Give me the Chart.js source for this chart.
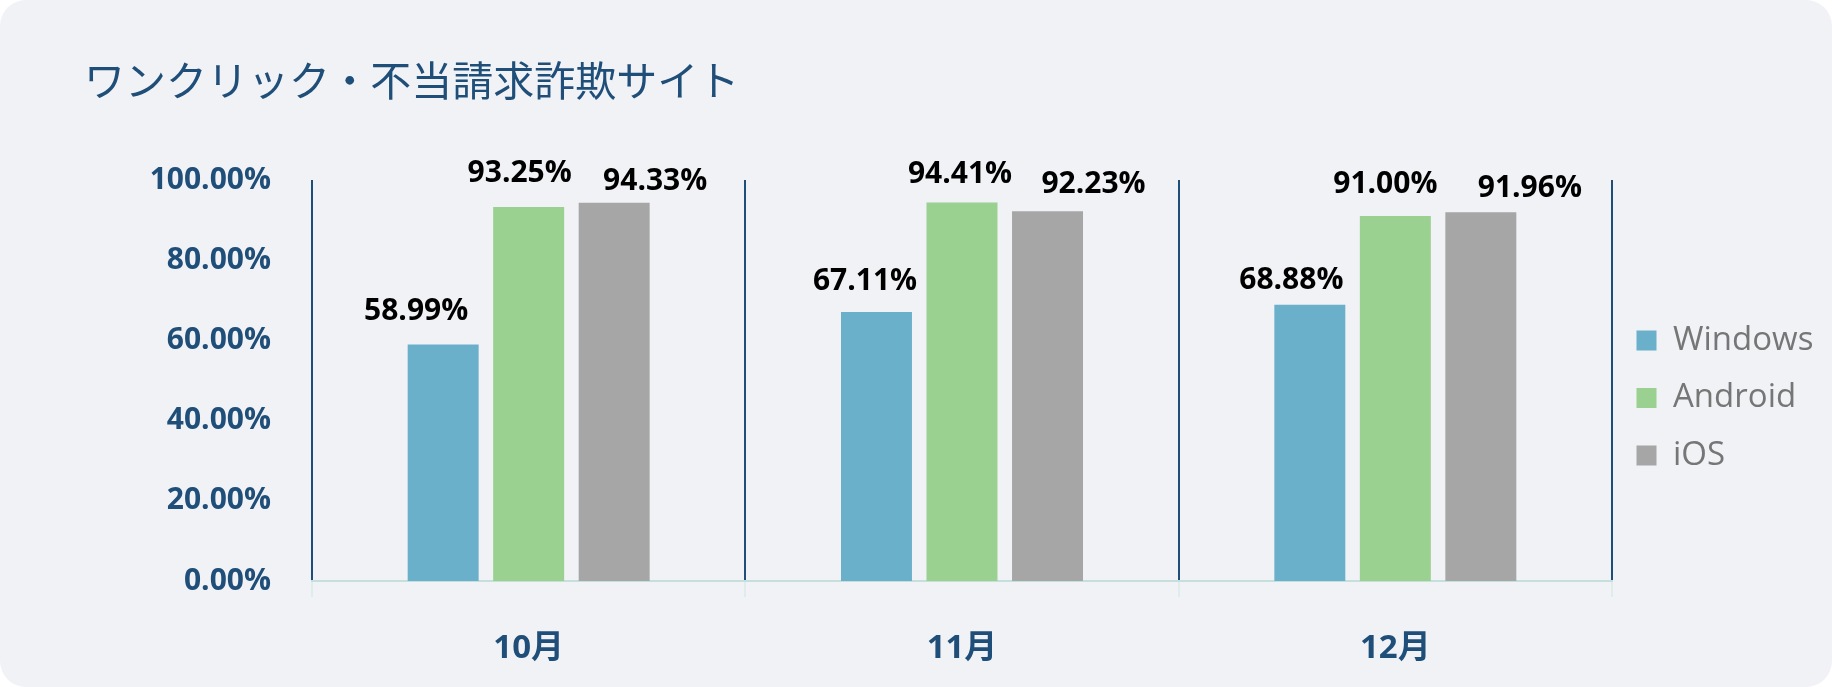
<!DOCTYPE html>
<html><head><meta charset="utf-8">
<script src="https://cdn.jsdelivr.net/npm/chart.js@4"></script>
<style>
html,body{margin:0;padding:0;background:#ffffff;}
#wrap{position:relative;width:1832px;height:687px;background:#f0f2f6;border-radius:26px;overflow:hidden;}
</style></head><body>
<div id="wrap"><canvas id="c"></canvas></div>
<script>
// ---- data ----
const chartTitle = 'ワンクリック・不当請求詐欺サイト';
const categories = ['10月', '11月', '12月'];
const seriesNames = ['Windows', 'Android', 'iOS'];
const windowsValues = [58.99, 67.11, 68.88];
const androidValues = [93.25, 94.41, 91.00];
const iosValues = [94.33, 92.23, 91.96];
const yTickLabels = ['0.00%', '20.00%', '40.00%', '60.00%', '80.00%', '100.00%'];

// ---- style ----
const seriesColors = ['#6ab0cb', '#9ad090', '#a6a6a6'];
const navy = '#1f4e79';
const numFont = "'Open Sans', 'Noto Sans CJK JP', sans-serif";
const legendFontSize = 33;
const legendPad = 24.5;
const legendBox = 20;
const plotRight = 1612;
const padLeft = 84;
// label offsets [dx, dy] from bar top-centre (dataset x category)
const labelShift = [
  [[-27, -24], [-11.5, -22], [-18.5, -16]],
  [[-9, -25], [-2, -19], [-10, -23]],
  [[41, -13], [46, -18], [49, -15]]
];

const mctx = document.createElement('canvas').getContext('2d');
mctx.font = legendFontSize + "px 'Open Sans'";
const maxLegendText = Math.max(...seriesNames.map(s => mctx.measureText(s).width));
const legendWidth = legendPad + legendBox + legendFontSize / 2 + maxLegendText + 10;
const padRight = 1832 - plotRight - legendWidth;

const valueLabels = {
  id: 'valueLabels',
  afterDatasetsDraw(chart) {
    const ctx = chart.ctx;
    ctx.save();
    ctx.font = "bold 30px " + numFont;
    ctx.fillStyle = '#000000';
    ctx.textAlign = 'center';
    ctx.textBaseline = 'alphabetic';
    chart.data.datasets.forEach((ds, i) => {
      const meta = chart.getDatasetMeta(i);
      meta.data.forEach((el, j) => {
        const s = labelShift[i][j];
        ctx.fillText(ds.data[j].toFixed(2) + '%', el.x + s[0], el.y + s[1]);
      });
    });
    ctx.restore();
  }
};

const seriesValues = [windowsValues, androidValues, iosValues];

new Chart(document.getElementById('c'), {
  type: 'bar',
  data: {
    labels: categories,
    datasets: seriesNames.map((name, i) => ({
      label: name,
      data: seriesValues[i],
      backgroundColor: seriesColors[i],
      borderWidth: 0,
      categoryPercentage: 0.592,
      barPercentage: 0.83
    }))
  },
  options: {
    responsive: true,
    maintainAspectRatio: false,
    animation: false,
    layout: { padding: { left: padLeft, right: padRight, top: 0, bottom: 0 } },
    plugins: {
      title: {
        display: true,
        text: chartTitle,
        align: 'start',
        color: navy,
        font: { family: "'Noto Sans CJK JP', sans-serif", size: 41, weight: 'normal', lineHeight: 1.2 },
        padding: { top: 56, bottom: 74.8 }
      },
      legend: {
        display: true,
        position: 'right',
        align: 'center',
        fullSize: false,
        title: { display: true, text: ' ', font: { size: 10, lineHeight: 1.2 }, padding: { top: 0, bottom: 23 } },
        labels: {
          boxWidth: legendBox,
          boxHeight: legendBox,
          padding: legendPad,
          color: '#767676',
          font: { family: "'Open Sans', sans-serif", size: legendFontSize, weight: 'normal' }
        }
      },
      tooltip: { enabled: false }
    },
    scales: {
      x: {
        afterFit(scale) { scale.height = 106; },
        grid: {
          display: true,
          offset: true,
          color: navy,
          lineWidth: 2,
          drawOnChartArea: true,
          drawTicks: true,
          tickLength: 16,
          tickColor: '#cfe6e2',
          tickWidth: 1
        },
        border: { display: true, color: '#c5e0dc', width: 2 },
        ticks: {
          color: navy,
          padding: 32,
          font: { family: numFont, size: 33, weight: 'bold', lineHeight: 1.2 }
        }
      },
      y: {
        min: 0,
        max: 100,
        grid: { display: false, drawTicks: false },
        border: { display: false },
        afterFit(scale) { scale.width = 312 - padLeft; },
        ticks: {
          stepSize: 20,
          padding: 41,
          color: navy,
          font: { family: numFont, size: 30, weight: 'bold' },
          callback: (v, idx) => yTickLabels[idx]
        }
      }
    }
  },
  plugins: [valueLabels]
});
</script>
</body></html>
